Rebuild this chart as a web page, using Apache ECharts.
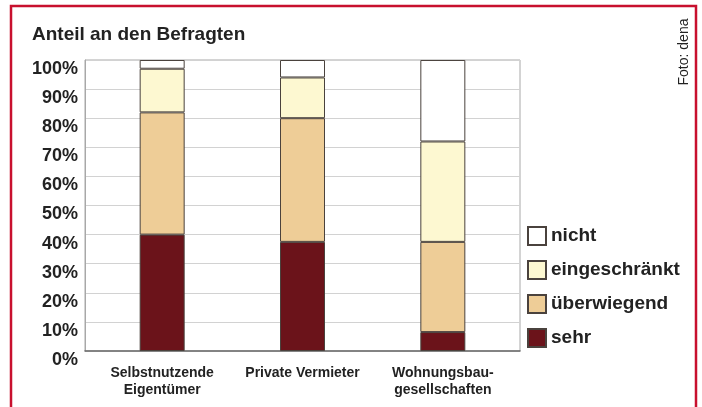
<!DOCTYPE html>
<html>
<head>
<meta charset="utf-8">
<script src="https://cdn.jsdelivr.net/npm/echarts@6/dist/echarts.min.js"></script>
<style>
  html, body { margin: 0; padding: 0; background: #fff; }
  #chart { width: 702px; height: 407px; }
</style>
</head>
<body>
<div id="chart"></div>
<script>
// Kategorien (x-Achse)
var categories = ['Selbstnutzende\nEigentümer', 'Private Vermieter', 'Wohnungsbau-\ngesellschaften']
// Anteile in Prozent, von unten nach oben gestapelt
var sehr = [40, 37.5, 6.5]
var ueberwiegend = [42, 42.5, 31]
var eingeschraenkt = [15, 14, 34.5]
var nicht = [3, 6, 28]
// Legende von oben nach unten
var legendNames = ['nicht', 'eingeschränkt', 'überwiegend', 'sehr']

var font = '"Liberation Sans", Arial, sans-serif'
var borderCol = '#4a423d'

function barSeries (name, data, color) {
  return {
    name: name,
    type: 'bar',
    stack: 'total',
    xAxisIndex: 1,
    yAxisIndex: 1,
    barWidth: 45,
    data: data,
    itemStyle: { color: color, borderColor: borderCol, borderWidth: 1 },
    emphasis: { disabled: true }
  }
}

var myChart = echarts.init(document.getElementById('chart'))
var option = {
  animation: false,
  backgroundColor: '#fff',
  title: {
    text: 'Anteil an den Befragten',
    left: 27,
    top: 20,
    textStyle: { fontFamily: font, fontSize: 19, fontWeight: 'bold', color: '#222' }
  },
  legend: {
    orient: 'vertical',
    left: 527,
    top: 226,
    padding: 0,
    itemWidth: 18,
    itemHeight: 18,
    itemGap: 14,
    icon: 'rect',
    data: legendNames,
    textStyle: { fontFamily: font, fontSize: 19, fontWeight: 'bold', color: '#222', lineHeight: 19 }
  },
  // Gitter 0: Rahmen, y-Achse, Hilfslinien; Gitter 1: Balken
  grid: [
    { left: 85, right: 182, top: 60, bottom: 56, show: true, borderColor: '#a8a8a8', borderWidth: 1 },
    { left: 92, right: 189, top: 60, bottom: 56 }
  ],
  xAxis: [
    {
      type: 'category',
      gridIndex: 0,
      data: categories,
      axisTick: { show: false },
      axisLabel: { show: false },
      axisLine: { lineStyle: { color: '#6a6a6a', width: 1.5 } }
    },
    {
      type: 'category',
      gridIndex: 1,
      data: categories,
      axisTick: { show: false },
      axisLine: { show: false },
      axisLabel: {
        interval: 0,
        margin: 14,
        fontFamily: font,
        fontSize: 14,
        fontWeight: 'bold',
        lineHeight: 17,
        color: '#222'
      }
    }
  ],
  yAxis: [
    {
      type: 'value',
      gridIndex: 0,
      min: 0,
      max: 100,
      interval: 10,
      axisLine: { show: true, lineStyle: { color: '#a8a8a8' } },
      axisTick: { show: false },
      splitLine: { lineStyle: { color: '#d2d2d2' } },
      axisLabel: {
        formatter: '{value}%',
        margin: 7,
        verticalAlign: 'top',
        fontFamily: font,
        fontSize: 18,
        fontWeight: 'bold',
        color: '#222'
      }
    },
    {
      type: 'value',
      gridIndex: 1,
      min: 0,
      max: 100,
      show: false
    }
  ],
  series: [
    barSeries('sehr', sehr, '#6b131a'),
    barSeries('überwiegend', ueberwiegend, '#eecd97'),
    barSeries('eingeschränkt', eingeschraenkt, '#fdf8d1'),
    barSeries('nicht', nicht, '#ffffff')
  ],
  graphic: [
    // roter Rahmen
    {
      type: 'rect',
      shape: { x: 11, y: 6, width: 685, height: 430 },
      style: { fill: 'none', stroke: '#c8102e', lineWidth: 2.5 },
      silent: true
    },
    {
      type: 'text',
      x: 684,
      y: 52,
      rotation: Math.PI / 2,
      style: {
        text: 'Foto: dena',
        fontFamily: font,
        fontSize: 14,
        fill: '#222',
        textAlign: 'center',
        textVerticalAlign: 'middle'
      }
    }
  ]
}
myChart.setOption(option)
</script>
</body>
</html>
